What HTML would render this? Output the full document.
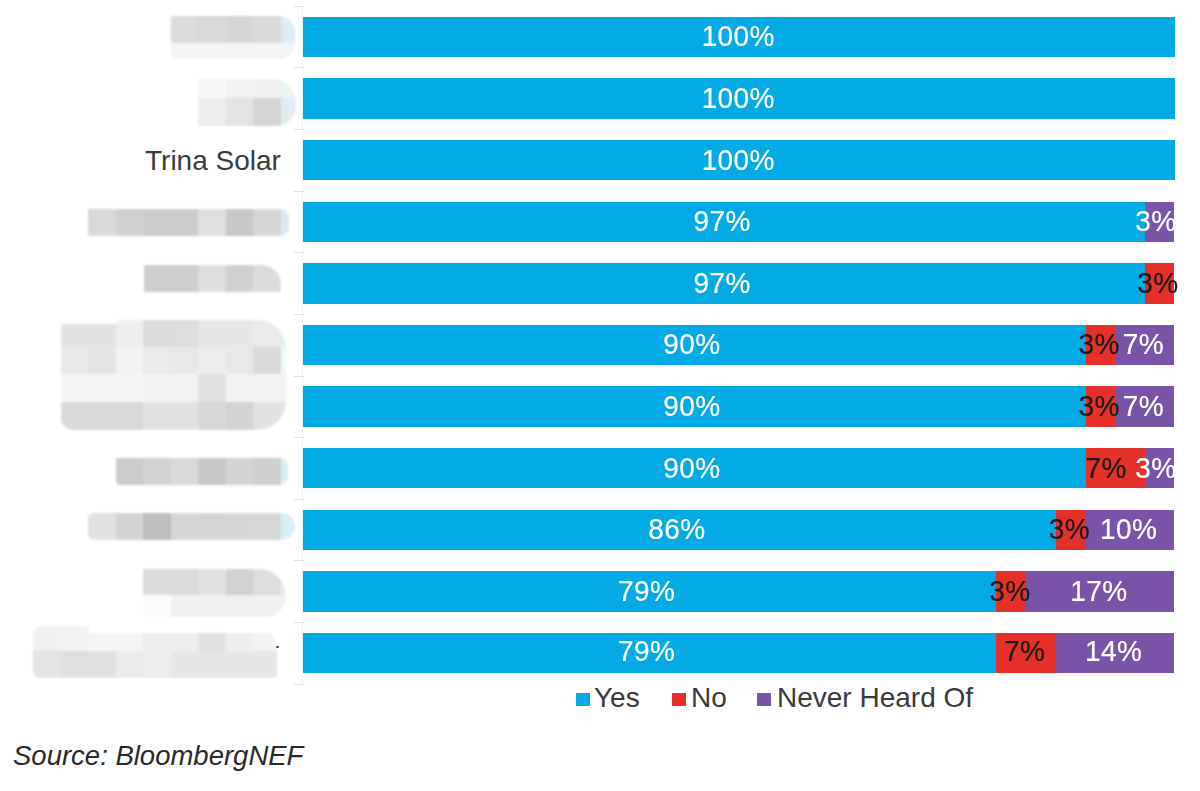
<!DOCTYPE html>
<html><head><meta charset="utf-8"><style>
html,body{margin:0;padding:0;background:#fff;width:1200px;height:791px;overflow:hidden;position:relative;font-family:"Liberation Sans",sans-serif;}
.lg{position:absolute;left:0;top:0;width:1200px;height:791px;}
.bar{position:absolute;left:303px;width:872px;height:40.4px;}
.s{position:absolute;top:0;height:100%;}
.b{background:#03aae4;}
.r{background:#e6312a;}
.p{background:#7853a7;}
.t{position:absolute;width:100px;text-align:center;top:-0.2px;line-height:40.4px;font-size:28px;color:#fff;white-space:nowrap;transform:scaleY(1.06);-webkit-text-stroke:0.2px currentColor;letter-spacing:0.4px;}
.rt{color:#1a1a1a;}
.axis{position:absolute;left:302px;top:6px;width:1px;height:678px;background:#f0f0f0;}
.tick{position:absolute;left:294px;width:10px;height:1px;background:#e2e2e2;}
.lbl{position:absolute;font-size:28px;color:#3a3a3a;white-space:nowrap;}
.leg{position:absolute;top:692.5px;width:13.5px;height:13px;}
.legt{position:absolute;top:683px;font-size:28px;color:#3a3a3a;white-space:nowrap;line-height:30px;}
.src{position:absolute;left:13px;top:741px;font-size:27.5px;font-style:italic;color:#2a2a2a;white-space:nowrap;line-height:30px;}
.dot{position:absolute;left:276px;top:646px;width:3px;height:2px;background:#444;border-radius:1px;}
</style></head><body>
<div class="lg" style="filter:blur(1.2px)"><div style="position:absolute;left:170.00px;top:16.00px;width:125.00px;height:43.00px;border-radius:0 16px 16px 8px;overflow:hidden"><div style="position:absolute;left:0.75px;top:-0.40px;width:28.05px;height:28.10px;background:#dcdcdc"></div><div style="position:absolute;left:28.30px;top:-0.40px;width:28.05px;height:28.10px;background:#d9d9d9"></div><div style="position:absolute;left:55.85px;top:-0.40px;width:28.05px;height:28.10px;background:#d6d6d6"></div><div style="position:absolute;left:83.40px;top:-0.40px;width:28.05px;height:28.10px;background:#dadada"></div><div style="position:absolute;left:110.95px;top:-0.40px;width:28.05px;height:28.10px;background:#dcedf3"></div><div style="position:absolute;left:0.75px;top:27.20px;width:138.25px;height:28.10px;background:#f4f4f4"></div></div></div><div class="lg" style="filter:blur(1.2px)"><div style="position:absolute;left:198.00px;top:79.00px;width:98.00px;height:47.00px;border-radius:0 24px 20px 0;overflow:hidden"><div style="position:absolute;left:0.30px;top:-8.20px;width:28.05px;height:28.10px;background:#f6f6f6"></div><div style="position:absolute;left:27.85px;top:-8.20px;width:28.05px;height:28.10px;background:#f2f2f2"></div><div style="position:absolute;left:55.40px;top:-8.20px;width:28.05px;height:28.10px;background:#f0f0f0"></div><div style="position:absolute;left:82.95px;top:-8.20px;width:28.05px;height:28.10px;background:#eaf2f5"></div><div style="position:absolute;left:0.30px;top:19.40px;width:28.05px;height:28.10px;background:#ececec"></div><div style="position:absolute;left:27.85px;top:19.40px;width:28.05px;height:28.10px;background:#e3e3e3"></div><div style="position:absolute;left:55.40px;top:19.40px;width:28.05px;height:28.10px;background:#d5d5d5"></div><div style="position:absolute;left:82.95px;top:19.40px;width:28.05px;height:28.10px;background:#e2ecf0"></div></div></div><div class="lg" style="filter:blur(1.2px)"><div style="position:absolute;left:87.50px;top:209.00px;width:201.50px;height:27.40px;border-radius:0 8px 8px 0;overflow:hidden"><div style="position:absolute;left:0.60px;top:-0.20px;width:28.05px;height:28.10px;background:#d9d9d9"></div><div style="position:absolute;left:28.15px;top:-0.20px;width:28.05px;height:28.10px;background:#d0d0d0"></div><div style="position:absolute;left:55.70px;top:-0.20px;width:55.60px;height:28.10px;background:#cccccc"></div><div style="position:absolute;left:110.80px;top:-0.20px;width:28.05px;height:28.10px;background:#e0e0e0"></div><div style="position:absolute;left:138.35px;top:-0.20px;width:28.05px;height:28.10px;background:#c8c8c8"></div><div style="position:absolute;left:165.90px;top:-0.20px;width:28.05px;height:28.10px;background:#d6d6d6"></div><div style="position:absolute;left:193.45px;top:-0.20px;width:28.05px;height:28.10px;background:#d8ecf2"></div></div></div><div class="lg" style="filter:blur(1.2px)"><div style="position:absolute;left:143.50px;top:264.50px;width:137.50px;height:27.30px;border-radius:0 20px 0 0;overflow:hidden"><div style="position:absolute;left:-0.30px;top:-0.50px;width:55.60px;height:28.10px;background:#cfcfcf"></div><div style="position:absolute;left:54.80px;top:-0.50px;width:28.05px;height:28.10px;background:#dedede"></div><div style="position:absolute;left:82.35px;top:-0.50px;width:28.05px;height:28.10px;background:#d0d0d0"></div><div style="position:absolute;left:109.90px;top:-0.50px;width:28.05px;height:28.10px;background:#dcdcdc"></div></div></div><div class="lg" style="filter:blur(1.2px)"><div style="position:absolute;left:60.00px;top:320.00px;width:226.00px;height:109.50px;border-radius:10px 28px 28px 14px;overflow:hidden"><div style="position:absolute;left:0.55px;top:4.00px;width:55.60px;height:23.30px;background:#e2e2e2"></div><div style="position:absolute;left:55.65px;top:-0.80px;width:28.05px;height:28.10px;background:#eeeeee"></div><div style="position:absolute;left:83.20px;top:-0.80px;width:28.05px;height:28.10px;background:#dcdcdc"></div><div style="position:absolute;left:110.75px;top:-0.80px;width:28.05px;height:28.10px;background:#dedede"></div><div style="position:absolute;left:138.30px;top:-0.80px;width:55.60px;height:28.10px;background:#e6e6e6"></div><div style="position:absolute;left:193.40px;top:-0.80px;width:28.05px;height:28.10px;background:#eaeaea"></div><div style="position:absolute;left:220.95px;top:-0.80px;width:28.05px;height:28.10px;background:#e0f0f4"></div><div style="position:absolute;left:0.55px;top:26.80px;width:28.05px;height:28.10px;background:#e8e8e8"></div><div style="position:absolute;left:28.10px;top:26.80px;width:28.05px;height:28.10px;background:#e4e4e4"></div><div style="position:absolute;left:55.65px;top:26.80px;width:28.05px;height:28.10px;background:#f2f2f2"></div><div style="position:absolute;left:83.20px;top:26.80px;width:28.05px;height:28.10px;background:#eaeaea"></div><div style="position:absolute;left:110.75px;top:26.80px;width:28.05px;height:28.10px;background:#e8e8e8"></div><div style="position:absolute;left:138.30px;top:26.80px;width:28.05px;height:28.10px;background:#ececec"></div><div style="position:absolute;left:165.85px;top:26.80px;width:28.05px;height:28.10px;background:#e8e8e8"></div><div style="position:absolute;left:193.40px;top:26.80px;width:28.05px;height:28.10px;background:#dadada"></div><div style="position:absolute;left:220.95px;top:26.80px;width:28.05px;height:28.10px;background:#eef6f8"></div><div style="position:absolute;left:0.55px;top:54.40px;width:83.15px;height:28.10px;background:#f5f5f5"></div><div style="position:absolute;left:83.20px;top:54.40px;width:55.60px;height:28.10px;background:#f2f2f2"></div><div style="position:absolute;left:138.30px;top:54.40px;width:28.05px;height:28.10px;background:#e0e0e0"></div><div style="position:absolute;left:165.85px;top:54.40px;width:83.15px;height:28.10px;background:#f2f2f2"></div><div style="position:absolute;left:0.55px;top:82.00px;width:83.15px;height:28.10px;background:#d9d9d9"></div><div style="position:absolute;left:83.20px;top:82.00px;width:28.05px;height:28.10px;background:#e2e2e2"></div><div style="position:absolute;left:110.75px;top:82.00px;width:28.05px;height:28.10px;background:#e2e2e2"></div><div style="position:absolute;left:138.30px;top:82.00px;width:28.05px;height:28.10px;background:#d8d8d8"></div><div style="position:absolute;left:165.85px;top:82.00px;width:28.05px;height:28.10px;background:#d4d4d4"></div><div style="position:absolute;left:193.40px;top:82.00px;width:55.60px;height:28.10px;background:#e2e2e2"></div></div></div><div class="lg" style="filter:blur(1.2px)"><div style="position:absolute;left:115.50px;top:457.50px;width:172.50px;height:27.00px;border-radius:0 8px 8px 4px;overflow:hidden"><div style="position:absolute;left:0.15px;top:-0.30px;width:28.05px;height:28.10px;background:#cccccc"></div><div style="position:absolute;left:27.70px;top:-0.30px;width:28.05px;height:28.10px;background:#d2d2d2"></div><div style="position:absolute;left:55.25px;top:-0.30px;width:28.05px;height:28.10px;background:#dadada"></div><div style="position:absolute;left:82.80px;top:-0.30px;width:28.05px;height:28.10px;background:#c8c8c8"></div><div style="position:absolute;left:110.35px;top:-0.30px;width:28.05px;height:28.10px;background:#d4d4d4"></div><div style="position:absolute;left:137.90px;top:-0.30px;width:28.05px;height:28.10px;background:#cfcfcf"></div><div style="position:absolute;left:165.45px;top:-0.30px;width:28.05px;height:28.10px;background:#d8eef4"></div></div></div><div class="lg" style="filter:blur(1.2px)"><div style="position:absolute;left:88.00px;top:512.80px;width:207.00px;height:26.80px;border-radius:6px 14px 14px 6px;overflow:hidden"><div style="position:absolute;left:0.10px;top:-0.40px;width:28.05px;height:28.10px;background:#e2e2e2"></div><div style="position:absolute;left:27.65px;top:-0.40px;width:28.05px;height:28.10px;background:#d4d4d4"></div><div style="position:absolute;left:55.20px;top:-0.40px;width:28.05px;height:28.10px;background:#bebebe"></div><div style="position:absolute;left:82.75px;top:-0.40px;width:28.05px;height:28.10px;background:#d6d6d6"></div><div style="position:absolute;left:110.30px;top:-0.40px;width:28.05px;height:28.10px;background:#d5d5d5"></div><div style="position:absolute;left:137.85px;top:-0.40px;width:28.05px;height:28.10px;background:#d6d6d6"></div><div style="position:absolute;left:165.40px;top:-0.40px;width:28.05px;height:28.10px;background:#d8d8d8"></div><div style="position:absolute;left:192.95px;top:-0.40px;width:28.05px;height:28.10px;background:#d6eef6"></div></div></div><div class="lg" style="filter:blur(1.2px)"><div style="position:absolute;left:143.00px;top:568.50px;width:143.00px;height:48.50px;border-radius:0 30px 24px 0;overflow:hidden"><div style="position:absolute;left:0.20px;top:-0.90px;width:55.60px;height:28.10px;background:#dcdcdc"></div><div style="position:absolute;left:55.30px;top:-0.90px;width:28.05px;height:28.10px;background:#e2e2e2"></div><div style="position:absolute;left:82.85px;top:-0.90px;width:28.05px;height:28.10px;background:#d2d2d2"></div><div style="position:absolute;left:110.40px;top:-0.90px;width:28.05px;height:28.10px;background:#dedede"></div><div style="position:absolute;left:137.95px;top:-0.90px;width:28.05px;height:28.10px;background:#e4f0f4"></div><div style="position:absolute;left:0.20px;top:26.70px;width:28.05px;height:28.10px;background:#fbfbfb"></div><div style="position:absolute;left:27.75px;top:26.70px;width:138.25px;height:28.10px;background:#f0f0f0"></div></div></div><div class="lg" style="filter:blur(1.2px)"><div style="position:absolute;left:33.00px;top:625.00px;width:244.00px;height:53.00px;border-radius:10px 24px 4px 6px;overflow:hidden"><div style="position:absolute;left:0.00px;top:0.50px;width:28.05px;height:25.40px;background:#f0f0f0"></div><div style="position:absolute;left:27.55px;top:0.50px;width:28.05px;height:25.40px;background:#f2f2f2"></div><div style="position:absolute;left:55.10px;top:8.00px;width:55.60px;height:17.90px;background:#f4f4f4"></div><div style="position:absolute;left:110.20px;top:8.00px;width:28.05px;height:17.90px;background:#ececec"></div><div style="position:absolute;left:137.75px;top:8.00px;width:28.05px;height:17.90px;background:#ededed"></div><div style="position:absolute;left:165.30px;top:8.00px;width:28.05px;height:17.90px;background:#e2e2e2"></div><div style="position:absolute;left:192.85px;top:8.00px;width:28.05px;height:17.90px;background:#eeeeee"></div><div style="position:absolute;left:220.40px;top:8.00px;width:28.05px;height:17.90px;background:#f2f2f2"></div><div style="position:absolute;left:0.00px;top:25.50px;width:28.05px;height:28.00px;background:#e4e4e4"></div><div style="position:absolute;left:27.55px;top:25.50px;width:55.60px;height:28.00px;background:#e0e0e0"></div><div style="position:absolute;left:82.65px;top:25.50px;width:28.05px;height:28.00px;background:#ebebeb"></div><div style="position:absolute;left:110.20px;top:25.50px;width:28.05px;height:28.00px;background:#ececec"></div><div style="position:absolute;left:137.75px;top:25.50px;width:110.70px;height:28.00px;background:#e6e6e6"></div></div></div>
<div class="axis"></div>
<div class="tick" style="top:5.70px"></div><div class="tick" style="top:67.34px"></div><div class="tick" style="top:128.98px"></div><div class="tick" style="top:190.62px"></div><div class="tick" style="top:252.26px"></div><div class="tick" style="top:313.90px"></div><div class="tick" style="top:375.54px"></div><div class="tick" style="top:437.18px"></div><div class="tick" style="top:498.82px"></div><div class="tick" style="top:560.46px"></div><div class="tick" style="top:622.10px"></div><div class="tick" style="top:683.74px"></div>
<div class="bar" style="top:16.60px"><div class="s b" style="left:0.00px;width:871.50px"></div><div class="t bt" style="left:385.25px;top:-0.2px">100%</div></div><div class="bar" style="top:78.24px"><div class="s b" style="left:0.00px;width:871.50px"></div><div class="t bt" style="left:385.25px;top:-0.2px">100%</div></div><div class="bar" style="top:139.88px"><div class="s b" style="left:0.00px;width:871.50px"></div><div class="t bt" style="left:385.25px;top:-0.2px">100%</div></div><div class="bar" style="top:201.52px"><div class="s b" style="left:0.00px;width:842.24px"></div><div class="s p" style="left:842.24px;width:29.26px"></div><div class="t bt" style="left:369.12px;top:-0.2px">97%</div><div class="t pt" style="left:802.87px;top:-0.2px">3%</div></div><div class="bar" style="top:263.16px"><div class="s b" style="left:0.00px;width:842.24px"></div><div class="s r" style="left:842.24px;width:29.26px"></div><div class="t bt" style="left:369.12px;top:-0.2px">97%</div><div class="t rt" style="left:804.87px;top:-0.2px">3%</div></div><div class="bar" style="top:324.80px"><div class="s b" style="left:0.00px;width:782.72px"></div><div class="s r" style="left:782.72px;width:29.76px"></div><div class="s p" style="left:812.48px;width:59.02px"></div><div class="t bt" style="left:338.86px;top:-1.0px">90%</div><div class="t rt" style="left:746.10px;top:-1.0px">3%</div><div class="t pt" style="left:790.49px;top:-1.0px">7%</div></div><div class="bar" style="top:386.44px"><div class="s b" style="left:0.00px;width:782.72px"></div><div class="s r" style="left:782.72px;width:29.76px"></div><div class="s p" style="left:812.48px;width:59.02px"></div><div class="t bt" style="left:338.86px;top:-0.2px">90%</div><div class="t rt" style="left:746.10px;top:-0.2px">3%</div><div class="t pt" style="left:790.49px;top:-0.2px">7%</div></div><div class="bar" style="top:448.08px"><div class="s b" style="left:0.00px;width:782.72px"></div><div class="s r" style="left:782.72px;width:59.52px"></div><div class="s p" style="left:842.24px;width:29.26px"></div><div class="t bt" style="left:338.86px;top:-0.2px">90%</div><div class="t rt" style="left:753.18px;top:-0.2px">7%</div><div class="t pt" style="left:802.87px;top:-0.2px">3%</div></div><div class="bar" style="top:509.72px"><div class="s b" style="left:0.00px;width:752.97px"></div><div class="s r" style="left:752.97px;width:29.76px"></div><div class="s p" style="left:782.72px;width:88.78px"></div><div class="t bt" style="left:323.98px;top:-0.4px">86%</div><div class="t rt" style="left:716.34px;top:-0.4px">3%</div><div class="t pt" style="left:775.61px;top:-0.4px">10%</div></div><div class="bar" style="top:571.36px"><div class="s b" style="left:0.00px;width:693.45px"></div><div class="s r" style="left:693.45px;width:29.76px"></div><div class="s p" style="left:723.21px;width:148.29px"></div><div class="t bt" style="left:293.72px;top:-0.4px">79%</div><div class="t rt" style="left:656.83px;top:-0.4px">3%</div><div class="t pt" style="left:745.85px;top:-0.4px">17%</div></div><div class="bar" style="top:633.00px"><div class="s b" style="left:0.00px;width:693.45px"></div><div class="s r" style="left:693.45px;width:59.52px"></div><div class="s p" style="left:752.97px;width:118.53px"></div><div class="t bt" style="left:293.72px;top:-1.8px">79%</div><div class="t rt" style="left:671.71px;top:-1.8px">7%</div><div class="t pt" style="left:760.73px;top:-1.8px">14%</div></div>
<div class="lbl" style="left:145px;top:145.5px;line-height:30px">Trina Solar</div>
<div class="dot"></div>
<div class="leg b" style="left:576px"></div><div class="legt" style="left:594px">Yes</div>
<div class="leg r" style="left:672px"></div><div class="legt" style="left:691px">No</div>
<div class="leg p" style="left:757px"></div><div class="legt" style="left:777px">Never Heard Of</div>
<div class="src">Source: BloombergNEF</div>
</body></html>
